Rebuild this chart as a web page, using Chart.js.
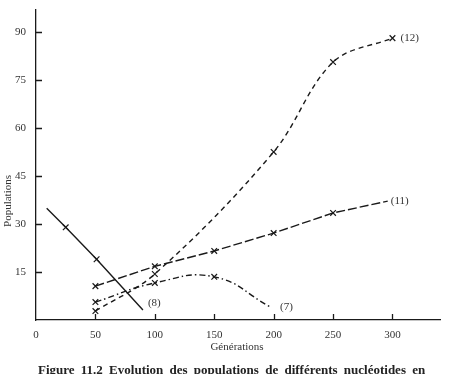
<!DOCTYPE html>
<html>
<head>
<meta charset="utf-8">
<script src="https://cdn.jsdelivr.net/npm/chart.js@4.4.1/dist/chart.umd.min.js"></script>
<style>
  html, body { margin: 0; padding: 0; background: #fff; overflow: hidden; }
  #wrap { position: relative; width: 464px; height: 374px; overflow: hidden; }
  #caption {
    position: absolute; left: 38px; top: 363px; white-space: nowrap;
    font: bold 13px "Liberation Serif", "DejaVu Serif", serif; line-height: 13px;
    color: #222; word-spacing: 3px;
  }
</style>
</head>
<body>
<div id="wrap">
  <canvas id="chart" width="464" height="374"></canvas>
  <div id="caption">Figure 11.2 Evolution des populations de différents nucléotides en</div>
</div>
<script>
// values (generations / population)
const seriesNames = ['(8)', '(11)', '(12)', '(7)'];

const gen8 = [9, 25, 51, 90];
const pop8 = [35, 29, 19, 3.1];

const gen11 = [50, 100, 150, 200, 250, 296];
const pop11 = [10.6, 16.8, 21.6, 27.2, 33.5, 37.2];

const gen12 = [50, 100, 200, 250, 300];
const pop12 = [2.8, 14.4, 52.6, 80.7, 88.2];

const gen7 = [50, 100, 150, 197];
const pop7 = [5.6, 11.6, 13.5, 4.1];

const xTicks = [0, 50, 100, 150, 200, 250, 300];
const yTicks = [15, 30, 45, 60, 75, 90];

const ink = '#1a1a1a';
const textInk = '#333';
const serif = '"Liberation Serif", "DejaVu Serif", serif';

function toPoints(xs, ys) {
    return xs.map((x, i) => ({ x: x, y: ys[i] }));
}

// which points carry an "x" mark (ends of some curves have none)
function marks(count, skip) {
    return Array.from({ length: count }, (_, i) => skip.includes(i) ? 0 : 4);
}

// label offsets next to the last point of each curve
const labelOffsets = [[5, -7], [3, 0], [8, 0], [10, 0]];

const extras = {
    id: 'extras',
    afterDatasetsDraw(chart) {
        const { ctx, chartArea, scales } = chart;
        const x = scales.x, y = scales.y;
        ctx.save();
        ctx.strokeStyle = ink;
        ctx.lineWidth = 1.3;
        ctx.beginPath();
        yTicks.forEach(v => {
            const py = Math.round(y.getPixelForValue(v)) + 0.5;
            ctx.moveTo(chartArea.left, py);
            ctx.lineTo(chartArea.left + 6, py);
        });
        xTicks.filter(v => v > 0).forEach(v => {
            const px = Math.round(x.getPixelForValue(v)) + 0.5;
            ctx.moveTo(px, chartArea.bottom);
            ctx.lineTo(px, chartArea.bottom - 6);
        });
        ctx.stroke();

        ctx.fillStyle = textInk;
        ctx.font = '11px ' + serif;
        ctx.textBaseline = 'middle';
        ctx.textAlign = 'left';
        chart.data.datasets.forEach((ds, i) => {
            const pts = chart.getDatasetMeta(i).data;
            const last = pts[pts.length - 1];
            ctx.fillText(ds.label, last.x + labelOffsets[i][0], last.y + labelOffsets[i][1]);
        });

        ctx.textAlign = 'center';
        ctx.fillText('Générations', 237, 347);

        ctx.translate(8, 201);
        ctx.rotate(-Math.PI / 2);
        ctx.fillText('Populations', 0, 0);
        ctx.restore();
    }
};

const common = {
    borderColor: ink,
    borderWidth: 1.4,
    pointStyle: 'crossRot',
    pointBorderColor: ink,
    pointBorderWidth: 1.2,
    fill: false
};

new Chart(document.getElementById('chart'), {
    type: 'line',
    data: {
        datasets: [
            Object.assign({}, common, {
                label: seriesNames[0],
                data: toPoints(gen8, pop8),
                tension: 0,
                pointRadius: marks(gen8.length, [0, 3])
            }),
            Object.assign({}, common, {
                label: seriesNames[1],
                data: toPoints(gen11, pop11),
                tension: 0,
                borderDash: [9, 3],
                pointRadius: marks(gen11.length, [5])
            }),
            Object.assign({}, common, {
                label: seriesNames[2],
                data: toPoints(gen12, pop12),
                tension: 0.35,
                borderDash: [5, 4],
                pointRadius: marks(gen12.length, [])
            }),
            Object.assign({}, common, {
                label: seriesNames[3],
                data: toPoints(gen7, pop7),
                tension: 0.45,
                borderDash: [6, 3, 1.5, 3],
                pointRadius: marks(gen7.length, [3])
            })
        ]
    },
    options: {
        responsive: false,
        animation: false,
        layout: { padding: { top: 10, right: 24, left: 0, bottom: 0 } },
        plugins: { legend: { display: false }, tooltip: { enabled: false } },
        scales: {
            x: {
                type: 'linear',
                min: 0,
                max: 340,
                afterFit: s => { s.height = 54; s.paddingLeft = 0; s.paddingRight = 0; },
                afterBuildTicks: s => { s.ticks = xTicks.map(v => ({ value: v })); },
                grid: { display: true, drawOnChartArea: false, drawTicks: false },
                border: { display: true, color: ink, width: 1.3 },
                ticks: { padding: 9, color: textInk, font: { family: serif, size: 11 } }
            },
            y: {
                type: 'linear',
                min: 0,
                max: 97,
                afterFit: s => { s.width = 36; s.paddingTop = 0; s.paddingBottom = 0; },
                afterBuildTicks: s => { s.ticks = yTicks.map(v => ({ value: v })); },
                grid: { display: true, drawOnChartArea: false, drawTicks: false },
                border: { display: true, color: ink, width: 1.3 },
                ticks: { padding: 10, color: textInk, font: { family: serif, size: 11 } }
            }
        }
    },
    plugins: [extras]
});
</script>
</body>
</html>
